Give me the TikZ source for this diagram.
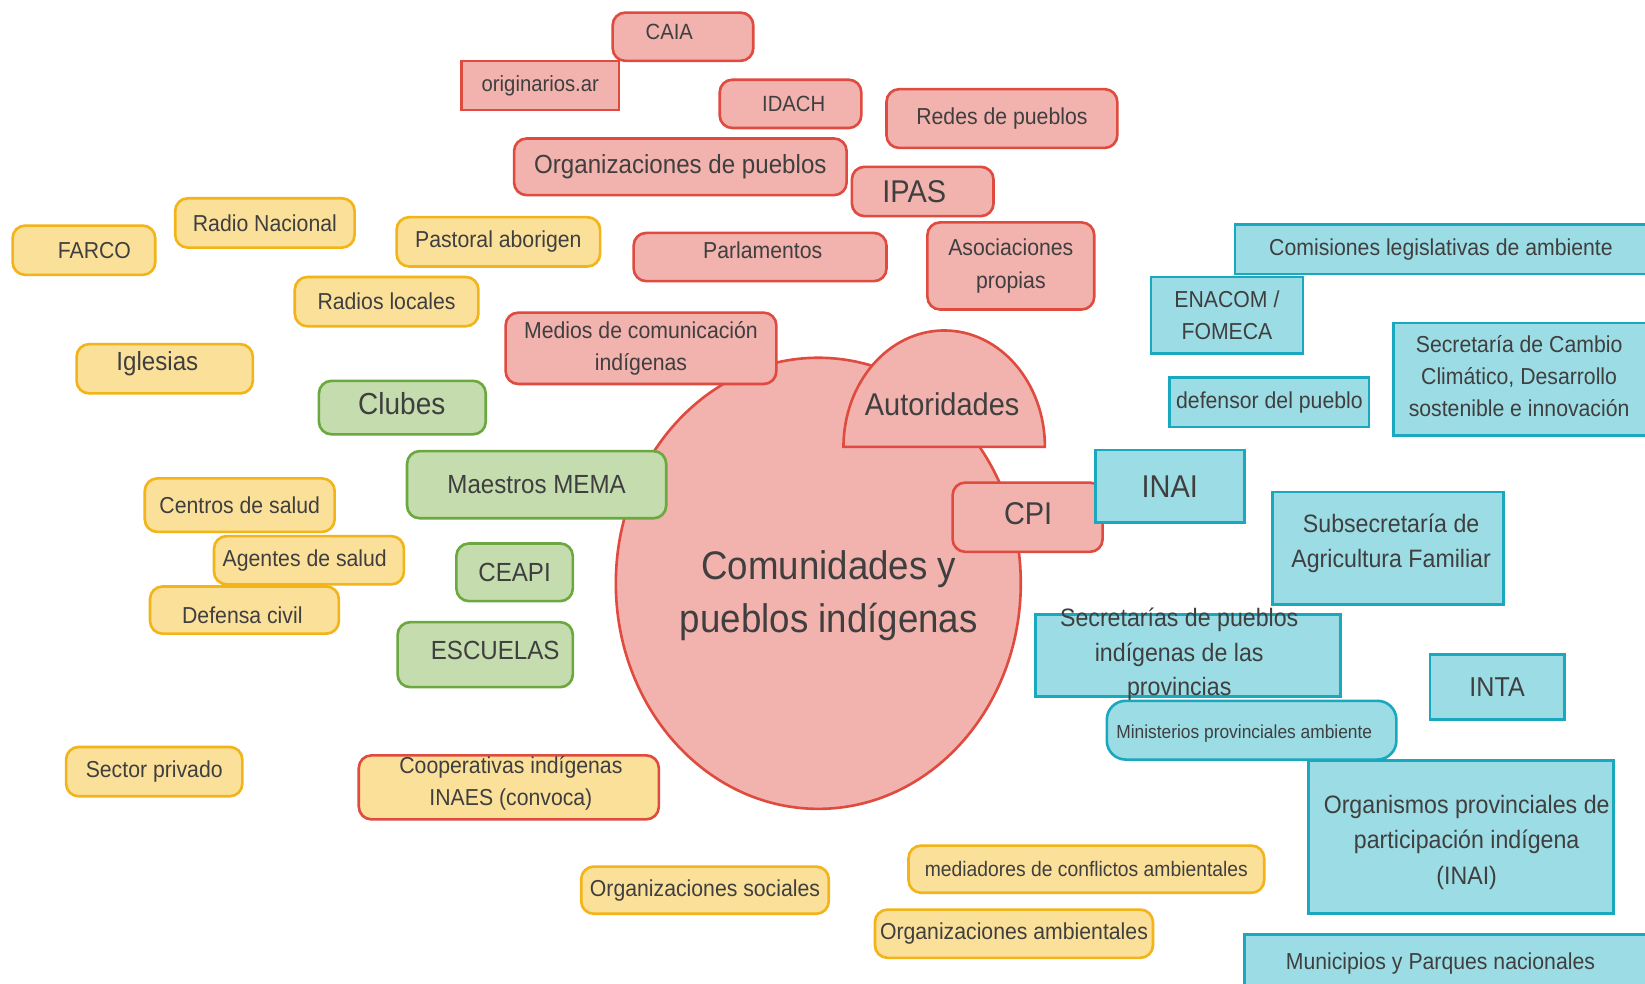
\documentclass[tikz,border=0pt]{standalone}
\usepackage{fontspec}
\setmainfont[FakeStretch=0.92]{Liberation Sans}
\usetikzlibrary{shapes.geometric}
\definecolor{pinkF}{HTML}{F2B2AE}
\definecolor{redD}{HTML}{E04B3F}
\definecolor{greenF}{HTML}{C4DCAE}
\definecolor{greenD}{HTML}{6BA840}
\definecolor{yellowF}{HTML}{FBE09A}
\definecolor{yellowD}{HTML}{F2B418}
\definecolor{cyanF}{HTML}{9CDCE5}
\definecolor{cyanD}{HTML}{1AA8BE}
\definecolor{txt}{HTML}{3F3F3F}
\newcommand\fsz[2]{\fontsize{#1}{#2}\selectfont}
\tikzset{
  base/.style={line width=2.5pt, text=txt, inner sep=0pt, align=center, font=\fsz{22}{31}},
  redbox/.style={base, draw=redD, fill=pinkF, rounded corners=12pt},
  redsharp/.style={base, draw=redD, fill=pinkF},
  greenbox/.style={base, draw=greenD, fill=greenF, rounded corners=12pt},
  yelbox/.style={base, draw=yellowD, fill=yellowF, rounded corners=12pt},
  coopbox/.style={base, draw=redD, fill=yellowF, rounded corners=12pt},
  cyanbox/.style={base, draw=cyanD, fill=cyanF},
  cyanround/.style={base, draw=cyanD, fill=cyanF, rounded corners=18pt},
  redshape/.style={line width=2.5pt, draw=redD, fill=pinkF},
  lbl/.style={text=txt, inner sep=0pt, align=center, font=\fsz{22}{31}}
}
\begin{document}
\begin{tikzpicture}[x=1pt,y=-1pt]
\clip (0,0) rectangle (1568,937);
\fill[white] (0,0) rectangle (1568,937);

% ---------- central ellipse ----------
\node[redshape, ellipse, minimum width=386, minimum height=430, inner sep=0pt] (comu) at (780,556) {};
\node[lbl, font=\fsz{38}{51}] (comutxt) at (790,568) {Comunidades y\\pueblos indígenas};

% Autoridades half disc
\draw[redshape] (804,426) arc[start angle=180, end angle=360, x radius=96, y radius=111] -- cycle;
\node[lbl, font=\fsz{30}{36}] (aut) at (898,385) {Autoridades};

% ---------- red boxes ----------
\node[redbox, minimum width=134, minimum height=46] (caia) at (651,35) {};
\node[lbl, font=\fsz{21}{28}] (caiat) at (638,30) {CAIA};
\node[redsharp, minimum width=150, minimum height=47, font=\fsz{21}{28}] (orig) at (515,81.5) {originarios.ar};
\node[redbox, minimum width=135, minimum height=46, font=\fsz{21}{28}] (idach) at (753.5,99) {\hspace*{6pt}IDACH};
\node[redbox, minimum width=220, minimum height=56] (redes) at (955,113) {Redes de pueblos};
\node[redbox, minimum width=317, minimum height=54, font=\fsz{25}{31}] (orgp) at (648.5,159) {Organizaciones de pueblos};
\node[redbox, minimum width=135, minimum height=47, font=\fsz{30}{36}] (ipas) at (879.5,182.5) {IPAS\hspace*{16pt}};
\node[redbox, minimum width=241, minimum height=46] (parl) at (724.5,245) {};
\node[lbl] (parlt) at (727,239) {Parlamentos};
\node[redbox, minimum width=159, minimum height=83] (asoc) at (963.5,253.5) {Asociaciones\\propias};
\node[redbox, minimum width=258, minimum height=68] (medios) at (611,332) {Medios de comunicación\\indígenas};
\node[redbox, minimum width=143, minimum height=66] (cpi) at (979.5,493) {};
\node[lbl, font=\fsz{30}{36}] (cpit) at (980,490) {CPI};

% ---------- green boxes ----------
\node[greenbox, minimum width=159, minimum height=51] (clubes) at (383.5,388.5) {};
\node[lbl, font=\fsz{29}{34}] (clubest) at (383,385) {Clubes};
\node[greenbox, minimum width=247, minimum height=64, font=\fsz{25}{31}] (mema) at (511.5,462) {Maestros MEMA};
\node[greenbox, minimum width=111, minimum height=55, font=\fsz{25}{31}] (ceapi) at (490.5,545.5) {CEAPI};
\node[greenbox, minimum width=167, minimum height=62] (escuelas) at (462.5,624) {};
\node[lbl, font=\fsz{25}{31}] (escuelast) at (472,620) {ESCUELAS};

% ---------- yellow boxes ----------
\node[yelbox, minimum width=136, minimum height=47] (farco) at (80,238.5) {\hspace*{20pt}FARCO};
\node[yelbox, minimum width=171, minimum height=47] (radion) at (252.5,212.5) {Radio Nacional};
\node[yelbox, minimum width=194, minimum height=47] (pastoral) at (475,230.5) {Pastoral aborigen};
\node[yelbox, minimum width=175, minimum height=47] (radiosl) at (368.5,287.5) {Radios locales};
\node[yelbox, minimum width=168, minimum height=47] (iglesias) at (157,351.5) {};
\node[lbl, font=\fsz{25}{31}] (iglesiast) at (150,347) {Iglesias};
\node[yelbox, minimum width=181, minimum height=51] (centros) at (228.5,481.5) {Centros de salud};
\node[yelbox, minimum width=181, minimum height=46] (agentes) at (294.5,534) {Agentes de salud\hspace*{8pt}};
\node[yelbox, minimum width=180, minimum height=45] (defensa) at (233,581.5) {};
\node[lbl] (defensat) at (231,586) {Defensa civil};
\node[yelbox, minimum width=168, minimum height=47] (sector) at (147,735.5) {Sector privado};
\node[yelbox, minimum width=236, minimum height=45] (orgsoc) at (672,848.5) {Organizaciones sociales};
\node[yelbox, minimum width=339, minimum height=45, font=\fsz{20}{26}] (mediad) at (1035.5,828.5) {mediadores de conflictos ambientales};
\node[yelbox, minimum width=265, minimum height=46] (orgamb) at (966.5,890) {Organizaciones ambientales};
\node[coopbox, minimum width=286, minimum height=61] (coop) at (485,750.5) {};
\node[lbl] (coopt) at (487,746.5) {Cooperativas indígenas\\INAES (convoca)};

% ---------- cyan boxes ----------
\node[cyanbox, minimum width=393, minimum height=47] (comis) at (1373.5,237.5) {Comisiones legislativas de ambiente};
\node[cyanbox, minimum width=145, minimum height=73] (enacom) at (1169.5,300.5) {ENACOM /\\FOMECA};
\node[cyanbox, minimum width=190, minimum height=47] (defensor) at (1210,383.5) {defensor del pueblo};
\node[cyanbox, minimum width=242, minimum height=107] (cambio) at (1449,361.5) {};
\node[lbl, font=\fsz{22}{30.5}] (cambiot) at (1448,358.5) {Secretaría de Cambio\\Climático, Desarrollo\\sostenible e innovación};
\node[cyanbox, minimum width=142, minimum height=69, font=\fsz{30}{36}] (inai) at (1115,463.5) {INAI};
\node[cyanbox, minimum width=220, minimum height=107] (subsec) at (1323,522.5) {};
\node[lbl, font=\fsz{24}{34}] (subsect) at (1326,518) {Subsecretaría de\\Agricultura Familiar};
\node[cyanbox, minimum width=291, minimum height=78] (secprov) at (1132.5,625) {};
\node[lbl, font=\fsz{24}{33}] (secprovt) at (1124,624) {Secretarías de pueblos\\indígenas de las\\provincias};
\node[cyanbox, minimum width=128, minimum height=62, font=\fsz{26}{31}] (inta) at (1427,655) {INTA};
\node[cyanround, minimum width=276, minimum height=56] (minist) at (1193,696) {};
\node[lbl, font=\fsz{18}{24}] (ministt) at (1186,699) {Ministerios provinciales ambiente};
\node[cyanbox, minimum width=291, minimum height=146] (organ) at (1392.5,798) {};
\node[lbl, font=\fsz{24}{34}] (organt) at (1398,803) {Organismos provinciales de\\participación indígena\\(INAI)};
\node[cyanbox, minimum width=384, minimum height=59] (munic) at (1378,920.5) {};
\node[lbl] (munict) at (1373,918) {Municipios y Parques nacionales};
\end{tikzpicture}
\end{document}
